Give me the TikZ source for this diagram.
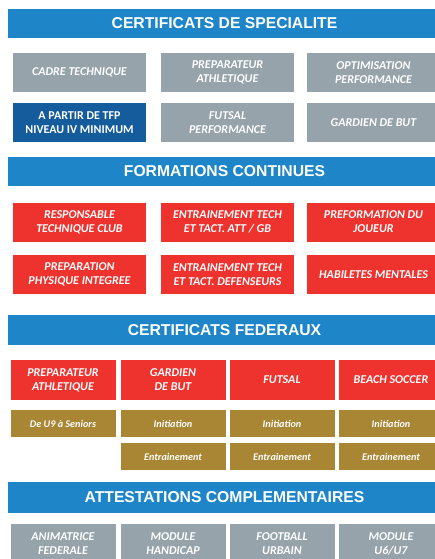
\documentclass[tikz,border=0pt]{standalone}
\usepackage{fontspec}
\setmainfont{Carlito}
\newfontfamily\hdrfont{Liberation Sans}
\definecolor{hdrblue}{HTML}{1E86C8}
\definecolor{cellgray}{HTML}{97A3AA}
\definecolor{celldark}{HTML}{155C9C}
\definecolor{cellred}{HTML}{EE322E}
\definecolor{cellgold}{HTML}{A88633}

\begin{document}
\begin{tikzpicture}
    [
        x=1pt,y=-1pt,
        hdr/.style={rectangle,fill=hdrblue,text=white,inner sep=0,minimum width=433pt,minimum height=29pt,
            font=\hdrfont\bfseries\fontsize{15.7}{17}\selectfont},
        cell/.style={rectangle,fill=#1,text=white,inner sep=0,minimum width=133pt,minimum height=39pt,
            align=center,font=\bfseries\itshape\fontsize{12}{14}\selectfont},
        fed/.style={cell=#1,minimum width=105pt,minimum height=40pt},
        lvl/.style={rectangle,fill=cellgold,text=white,inner sep=0,minimum width=105pt,minimum height=27pt,
            font=\bfseries\itshape\fontsize{10.2}{12}\selectfont},
    ]
    \clip (0,0) rectangle (435,559);
    % certificats de specialite
    \node[hdr] (spec) at (224.5,23.5) {CERTIFICATS DE SPECIALITE};
    \node[cell=cellgray] (cadre) at (79.5,72.5) {CADRE TECHNIQUE};
    \node[cell=cellgray] (prepa) at (227.5,72.5) {PREPARATEUR\\ATHLETIQUE};
    \node[cell=cellgray] (optim) at (373.5,72.5) {OPTIMISATION\\PERFORMANCE};
    \node[cell=celldark,font=\bfseries\fontsize{12}{14}\selectfont] (tfp) at (79.5,122.5) {A PARTIR DE TFP\\NIVEAU IV MINIMUM};
    \node[cell=cellgray] (futperf) at (227.5,122.5) {FUTSAL\\PERFORMANCE};
    \node[cell=cellgray] (gdb) at (373.5,122.5) {GARDIEN DE BUT};
    % formations continues
    \node[hdr] (form) at (224.5,171.5) {FORMATIONS CONTINUES};
    \node[cell=cellred] (resp) at (79.5,222) {RESPONSABLE\\TECHNIQUE CLUB};
    \node[cell=cellred] (entatt) at (227.5,222) {ENTRAINEMENT TECH\\ET TACT. ATT / GB};
    \node[cell=cellred] (preform) at (373.5,222) {PREFORMATION DU\\JOUEUR};
    \node[cell=cellred] (physi) at (79.5,274.5) {PREPARATION\\PHYSIQUE INTEGREE};
    \node[cell=cellred] (entdef) at (227.5,274.5) {ENTRAINEMENT TECH\\ET TACT. DEFENSEURS};
    \node[cell=cellred] (habil) at (373.5,274.5) {HABILETES MENTALES};
    % certificats federaux
    \node[hdr,minimum height=30pt] (fede) at (224.5,330) {CERTIFICATS FEDERAUX};
    \node[fed=cellred] (fprepa) at (63,380) {PREPARATEUR\\ATHLETIQUE};
    \node[fed=cellred] (fgdb) at (173,380) {GARDIEN\\DE BUT};
    \node[fed=cellred] (ffut) at (282,380) {FUTSAL};
    \node[fed=cellred] (fbeach) at (391,380) {BEACH SOCCER};
    \node[lvl] (u9) at (63,423.5) {De U9 à Seniors};
    \node[lvl] (gdbini) at (173,423.5) {Initiation};
    \node[lvl] (futini) at (282,423.5) {Initiation};
    \node[lvl] (beachini) at (391,423.5) {Initiation};
    \node[lvl] (gdbent) at (173,456.5) {Entrainement};
    \node[lvl] (futent) at (282,456.5) {Entrainement};
    \node[lvl] (beachent) at (391,456.5) {Entrainement};
    % attestations complementaires
    \node[hdr,minimum height=31pt] (attest) at (224.5,497.5) {ATTESTATIONS COMPLEMENTAIRES};
    \node[fed=cellgray] (anim) at (63,544) {ANIMATRICE\\FEDERALE};
    \node[fed=cellgray] (handi) at (173,544) {MODULE\\HANDICAP};
    \node[fed=cellgray] (urbain) at (282,544) {FOOTBALL\\URBAIN};
    \node[fed=cellgray] (usix) at (391,544) {MODULE\\U6/U7};
\end{tikzpicture}
\end{document}
